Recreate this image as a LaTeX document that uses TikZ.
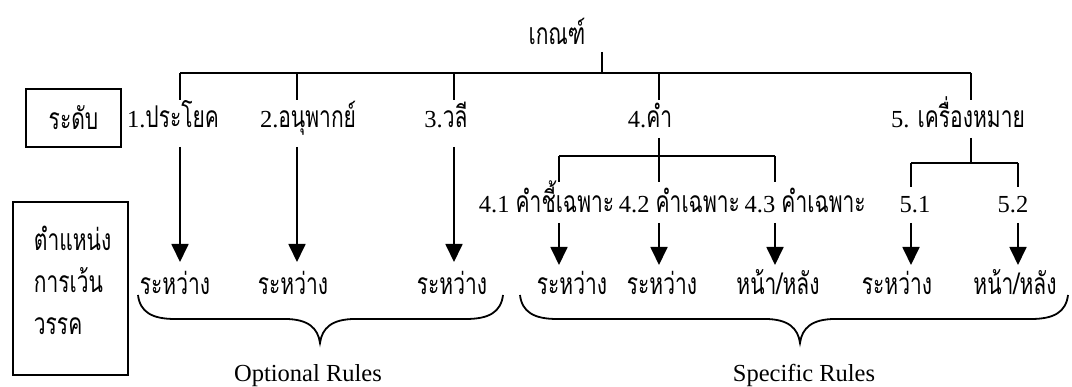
\documentclass[tikz,border=0pt]{standalone}
\usepackage{fontspec}
\setmainfont{Liberation Serif}
\newfontfamily\thai[Script=Thai,FakeStretch=0.7]{Loma}
\usetikzlibrary{arrows.meta}
\newcommand\tht{\thai\fontsize{30}{34}\selectfont}
\begin{document}
\begin{tikzpicture}[x=1pt,y=-1pt,line width=1.8pt,
  lbl/.style={font=\fontsize{24.5}{28}\selectfont,inner sep=0pt,anchor=base},
  arr/.style={-{Triangle[width=17pt,length=18pt]}},
  box/.style={draw,line width=1.6pt,inner sep=0pt}]
\useasboundingbox (0,0) rectangle (1072,387);
% texts
\node[lbl] (title) at (557,45) {\tht เกณฑ์};
\node[box,minimum width=95pt,minimum height=58pt] (lvl) at (73.5,118) {\tht ระดับ};
\node[lbl] (l1) at (173,128) {1.{\tht ประโยค}};
\node[lbl] (l2) at (308,128) {2.{\tht อนุพากย์}};
\node[lbl] (l3) at (446,128) {3.{\tht วลี}};
\node[lbl] (l4) at (650,128) {4.{\tht คำ}};
\node[lbl] (l5) at (958,128) {5. {\tht เครื่องหมาย}};
\node[lbl,anchor=base west] (m41) at (478,213) {4.1 {\tht คำชี้เฉพาะ}};
\node[lbl,anchor=base west] (m42) at ([xshift=3pt]m41.base east) {4.2 {\tht คำเฉพาะ}};
\node[lbl,anchor=base west] (m43) at ([xshift=3pt]m42.base east) {4.3 {\tht คำเฉพาะ}};
\node[lbl] (m51) at (915,213) {5.1};
\node[lbl] (m52) at (1013,213) {5.2};
\node[box,minimum width=115pt,minimum height=173pt] (pos) at (70.5,288.5) {};
\node[lbl,anchor=base west] (p1) at (33,251) {\tht ตำแหน่ง};
\node[lbl,anchor=base west] (p2) at (33,293) {\tht การเว้น};
\node[lbl,anchor=base west] (p3) at (33,335) {\tht วรรค};
\node[lbl] (r1) at (175,295) {\tht ระหว่าง};
\node[lbl] (r2) at (293,295) {\tht ระหว่าง};
\node[lbl] (r3) at (452,295) {\tht ระหว่าง};
\node[lbl] (r41) at (572,295) {\tht ระหว่าง};
\node[lbl] (r42) at (662,295) {\tht ระหว่าง};
\node[lbl] (r43) at (778,295) {\tht หน้า/หลัง};
\node[lbl] (r51) at (897,295) {\tht ระหว่าง};
\node[lbl] (r52) at (1015,295) {\tht หน้า/หลัง};
\node[lbl] (opt) at (308,382) {Optional Rules};
\node[lbl] (spec) at (804,382) {Specific Rules};
% coordinates
\coordinate (ts) at (602,52); \coordinate (bt) at (602,73);
\coordinate (b1) at (180,73); \coordinate (b2) at (297,73); \coordinate (b3) at (454,73);
\coordinate (b4) at (659,73); \coordinate (b5) at (971,73);
\coordinate (t1) at (180,100); \coordinate (t2) at (297,100); \coordinate (t3) at (454,100);
\coordinate (t4) at (659,100); \coordinate (t5) at (971,100);
\coordinate (u1) at (180,147); \coordinate (u2) at (297,147); \coordinate (u3) at (454,147);
\coordinate (e1) at (180,262); \coordinate (e2) at (297,262); \coordinate (e3) at (454,262);
\coordinate (c4) at (659,138); \coordinate (c5) at (971,138);
\coordinate (s4l) at (559,156); \coordinate (s4m) at (659,156); \coordinate (s4r) at (775,156);
\coordinate (g41) at (559,182); \coordinate (g42) at (659,182); \coordinate (g43) at (775,182);
\coordinate (s5l) at (911,163); \coordinate (s5m) at (971,163); \coordinate (s5r) at (1018,163);
\coordinate (g51) at (911,187); \coordinate (g52) at (1018,187);
\coordinate (h41) at (559,223); \coordinate (h42) at (659,223); \coordinate (h43) at (775,223);
\coordinate (h51) at (911,223); \coordinate (h52) at (1018,223);
\coordinate (k41) at (559,265); \coordinate (k42) at (659,265); \coordinate (k43) at (775,265);
\coordinate (k51) at (911,265); \coordinate (k52) at (1018,265);
% connectors
\draw (ts) -- (bt);
\draw (b1) -- (b5);
\draw (b1) -- (t1); \draw (b2) -- (t2); \draw (b3) -- (t3);
\draw (b4) -- (t4); \draw (b5) -- (t5);
\draw[arr] (u1) -- (e1); \draw[arr] (u2) -- (e2); \draw[arr] (u3) -- (e3);
\draw (c4) -- (g42);
\draw (s4l) -- (s4r);
\draw (s4l) -- (g41); \draw (s4r) -- (g43);
\draw (c5) -- (s5m);
\draw (s5l) -- (s5r);
\draw (s5l) -- (g51); \draw (s5r) -- (g52);
\draw[arr] (h41) -- (k41); \draw[arr] (h42) -- (k42); \draw[arr] (h43) -- (k43);
\draw[arr] (h51) -- (k51); \draw[arr] (h52) -- (k52);
% braces
\draw (138,295) .. controls (140,312) and (152,319) .. (175,319) -- (285,319)
  .. controls (308,319) and (318,328) .. (320,343)
  .. controls (322,328) and (332,319) .. (355,319) -- (466,319)
  .. controls (489,319) and (501,312) .. (503,295);
\draw (520,295) .. controls (522,312) and (534,319) .. (557,319) -- (765,319)
  .. controls (788,319) and (798,328) .. (800,343)
  .. controls (802,328) and (812,319) .. (835,319) -- (1031,319)
  .. controls (1054,319) and (1066,312) .. (1068,295);
\end{tikzpicture}
\end{document}
